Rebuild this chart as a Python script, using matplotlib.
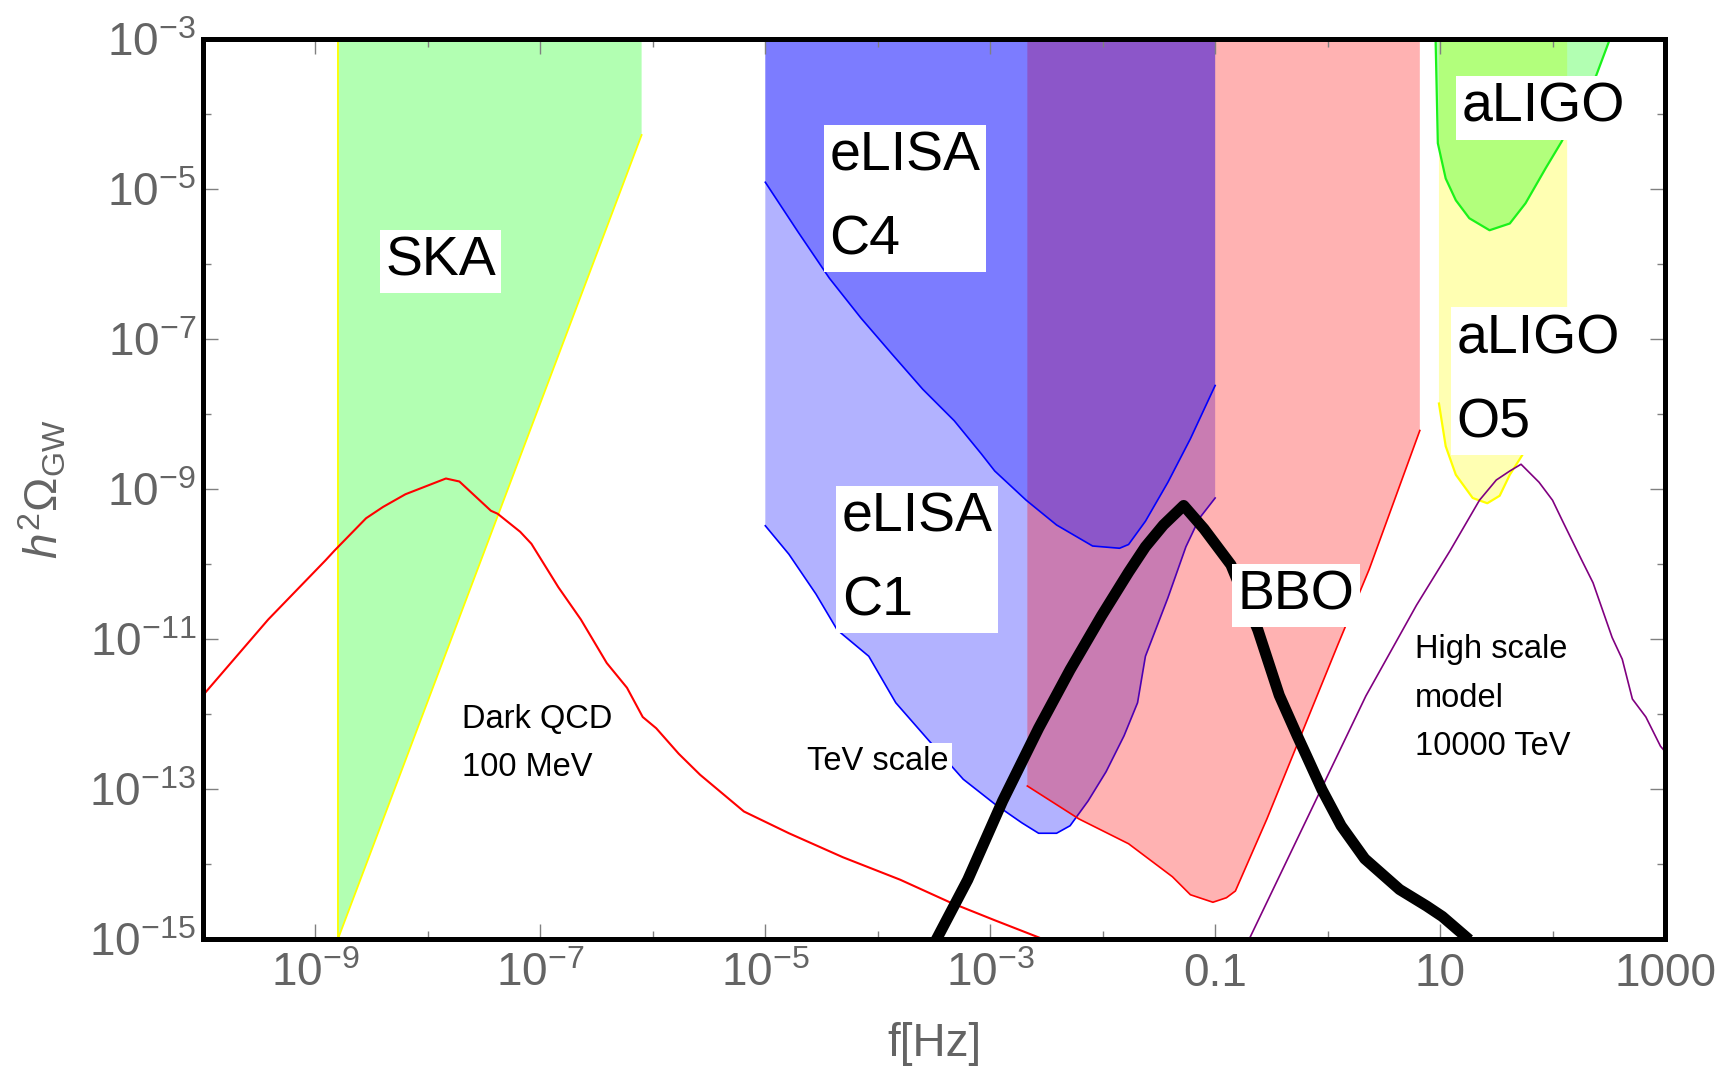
import numpy as np
import matplotlib
matplotlib.use("Agg")
import matplotlib.pyplot as plt

plt.rcParams['font.family'] = ['Liberation Sans', 'DejaVu Sans']
plt.rcParams['mathtext.fontset'] = 'custom'
plt.rcParams['mathtext.rm'] = 'Liberation Sans'
plt.rcParams['mathtext.it'] = 'Liberation Sans:italic'
plt.rcParams['mathtext.bf'] = 'Liberation Sans:bold'

# ---- data: log10(f / Hz) and log10(h^2 Omega_GW) ----
# SKA sensitivity region (polygon, filled)
ska_logf = [-8.8, -8.8, -6.1, -6.1]
ska_logo = [-3.0, -15.0, -4.28, -3.0]

# eLISA C1 sensitivity curve
c1_logf = [-5.0, -4.79, -4.55, -4.36, -4.08, -3.84, -3.56, -3.24, -2.96, -2.72,
           -2.57, -2.41, -2.29, -2.13, -1.97, -1.81, -1.69, -1.62, -1.42, -1.26,
           -1.14, -1.0]
c1_logo = [-9.49, -9.87, -10.40, -10.88, -11.23, -11.85, -12.33, -12.87, -13.20, -13.45,
           -13.59, -13.59, -13.49, -13.16, -12.77, -12.29, -11.85, -11.23, -10.45, -9.77,
           -9.39, -9.12]

# eLISA C4 sensitivity curve
c4_logf = [-5.0, -4.71, -4.43, -4.15, -3.88, -3.60, -3.32, -3.08, -2.96, -2.68,
           -2.41, -2.09, -1.85, -1.77, -1.62, -1.42, -1.22, -1.0]
c4_logo = [-4.91, -5.57, -6.19, -6.72, -7.19, -7.67, -8.09, -8.53, -8.76, -9.15,
           -9.48, -9.76, -9.79, -9.74, -9.43, -8.91, -8.33, -7.62]

# BBO sensitivity curve
bbo_logf = [-2.67, -2.21, -1.77, -1.38, -1.22, -1.02, -0.90, -0.82, -0.54, -0.225,
            0.09, 0.37, 0.82]
bbo_logo = [-12.96, -13.40, -13.73, -14.17, -14.41, -14.51, -14.45, -14.36, -13.40, -12.24,
            -11.08, -10.07, -8.22]

# aLIGO O5 sensitivity curve
o5_logf = [0.99, 1.05, 1.14, 1.29, 1.42, 1.53, 1.62, 1.73, 2.13]
o5_logo = [-7.86, -8.43, -8.81, -9.12, -9.19, -9.09, -8.81, -8.55, -7.5]

# aLIGO sensitivity curve
aligo_logf = [0.96, 0.98, 1.05, 1.14, 1.26, 1.44, 1.62, 1.76, 1.94, 2.08, 2.39, 2.51]
aligo_logo = [-3.0, -4.39, -4.86, -5.15, -5.39, -5.55, -5.46, -5.19, -4.72, -4.37, -3.48, -3.0]

# Dark QCD (100 MeV) spectrum
qcd_logf = [-10.0, -9.42, -8.91, -8.83, -8.55, -8.40, -8.20, -7.84, -7.72, -7.44,
            -7.38, -7.18, -7.08, -6.84, -6.64, -6.41, -6.23, -6.09, -5.97, -5.77,
            -5.58, -5.19, -4.79, -4.31, -3.80, -3.36, -2.96, -2.55]
qcd_logo = [-11.75, -10.74, -9.95, -9.82, -9.39, -9.24, -9.07, -8.86, -8.90, -9.29,
            -9.33, -9.57, -9.73, -10.31, -10.74, -11.32, -11.65, -12.04, -12.19, -12.53,
            -12.81, -13.30, -13.59, -13.91, -14.21, -14.51, -14.75, -14.99]

# TeV scale spectrum
tev_logf = [-3.48, -3.20, -2.89, -2.57, -2.29, -2.01, -1.77, -1.62, -1.46, -1.28,
            -1.10, -0.86, -0.62, -0.43, -0.27, -0.19, -0.05, 0.12, 0.33, 0.64,
            0.88, 1.02, 1.26]
tev_logo = [-15.01, -14.21, -13.16, -12.19, -11.41, -10.69, -10.11, -9.77, -9.48, -9.22,
            -9.53, -10.01, -10.88, -11.75, -12.29, -12.55, -13.01, -13.49, -13.93, -14.34,
            -14.56, -14.70, -15.01]

# High scale model (10000 TeV) spectrum
high_logf = [-0.70, 0.34, 0.79, 1.09, 1.35, 1.50, 1.62, 1.72, 1.88, 2.0,
             2.09, 2.26, 2.36, 2.53, 2.62, 2.71, 2.83, 2.96, 3.0]
high_logo = [-15.01, -11.76, -10.55, -9.82, -9.15, -8.88, -8.76, -8.67, -8.91, -9.15,
             -9.43, -9.95, -10.25, -10.98, -11.27, -11.80, -12.04, -12.43, -12.50]

# axis ticks
xmajor_exp = [-9, -7, -5, -3, -1, 1, 3]
xmajor_labels = [r'$10^{-9}$', r'$10^{-7}$', r'$10^{-5}$', r'$10^{-3}$', '0.1', '10', '1000']
xminor_exp = [-10, -8, -6, -4, -2, 0, 2]
ymajor_exp = [-3, -5, -7, -9, -11, -13, -15]
ymajor_labels = [r'$10^{-3}$', r'$10^{-5}$', r'$10^{-7}$', r'$10^{-9}$',
                 r'$10^{-11}$', r'$10^{-13}$', r'$10^{-15}$']
yminor_exp = [-4, -6, -8, -10, -12, -14]

LOG_TOP = -3.0


def P(a):
    return 10.0 ** np.asarray(a, dtype=float)


fig = plt.figure(figsize=(17.33, 10.68), dpi=100)
ax = fig.add_axes([203 / 1733, 1 - 939 / 1068, 1462 / 1733, 900 / 1068])
ax.set_xscale('log')
ax.set_yscale('log')
ax.set_xlim(1e-10, 1e3)
ax.set_ylim(1e-15, 1e-3)

A = 0.3
BLUE = (0, 0, 1)
RED = (1, 0, 0)
GREEN = (0, 1, 0)
YELLOW = (1, 1, 0)
PURPLE = (0.5, 0, 0.5)


def band(lf, lo, color, z, line_color=None, lw=1.2, line=True):
    """Region between a sensitivity curve and the top of the plot."""
    xs = [lf[0]] + list(lf) + [lf[-1]]
    ys = [LOG_TOP] + list(lo) + [LOG_TOP]
    ax.fill(P(xs), P(ys), color=color, alpha=A, lw=0, zorder=z)
    if line:
        ax.plot(P(lf), P(lo), color=line_color or color, lw=lw, zorder=z + 0.05,
                solid_joinstyle='round')


# SKA
ax.fill(P(ska_logf), P(ska_logo), color=GREEN, alpha=A, lw=0, zorder=1.0)
ax.plot(P(ska_logf[:3]), P(ska_logo[:3]), color=YELLOW, lw=1.3, zorder=1.05)

# eLISA C1, BBO, eLISA C4
band(c1_logf, c1_logo, BLUE, 1.1)
band(bbo_logf, bbo_logo, RED, 1.2)
band(c4_logf, c4_logo, BLUE, 1.3)

# aLIGO O5 and aLIGO
band(o5_logf, o5_logo, YELLOW, 1.4, lw=1.6)
band(aligo_logf, aligo_logo, GREEN, 1.5, line_color=(0.1, 0.95, 0.1), lw=1.6)

# model spectra
ax.plot(P(qcd_logf), P(qcd_logo), color=RED, lw=1.5, zorder=2,
        solid_joinstyle='round')
ax.plot(P(high_logf), P(high_logo), color=PURPLE, lw=1.2, zorder=2,
        solid_joinstyle='round')
ax.plot(P(tev_logf), P(tev_logo), color='black', lw=8, zorder=2.5,
        solid_joinstyle='round', solid_capstyle='butt')

# labels
box = dict(facecolor='white', edgecolor='none', boxstyle='square,pad=0.1')
big = dict(fontsize=40, color='black', ha='left', va='center', linespacing=1.8,
           zorder=3, bbox=box)
small = dict(fontsize=23.5, color='black', ha='left', va='center', linespacing=1.72,
             zorder=3)

ax.text(P(-8.38), P(-5.97), 'SKA', **big)
ax.text(P(-4.43), P(-5.13), 'eLISA\nC4', **big)
ax.text(P(-4.32), P(-9.94), 'eLISA\nC1', **big)
ax.text(P(-0.80), P(-10.42), 'BBO', **big)
ax.text(P(1.19), P(-3.92), 'aLIGO', **big)
ax.text(P(1.144), P(-7.56), 'aLIGO\nO5', **big)

ax.text(P(-7.70), P(-12.39), 'Dark QCD\n100 MeV', **small)
ax.text(P(-4.63), P(-12.64), 'TeV scale',
        bbox=dict(facecolor='white', edgecolor='none', boxstyle='square,pad=0.12'),
        **small)
ax.text(P(0.773), P(-11.79), 'High scale\nmodel\n10000 TeV', **small)

# frame and ticks
for sp in ax.spines.values():
    sp.set_linewidth(3.6)
    sp.set_color('black')
    sp.set_zorder(4)

LABEL_GRAY = '#646464'
TICK_GRAY = '#808080'
ax.set_xticks(P(xmajor_exp))
ax.set_xticklabels(xmajor_labels)
ax.set_xticks(P(xminor_exp), minor=True)
ax.set_xticklabels([], minor=True)
ax.set_yticks(P(ymajor_exp))
ax.set_yticklabels(ymajor_labels)
ax.set_yticks(P(yminor_exp), minor=True)
ax.set_yticklabels([], minor=True)

ax.tick_params(which='both', direction='in', top=True, right=True,
               color=TICK_GRAY, width=1.0)
ax.tick_params(which='major', length=11)
ax.tick_params(which='minor', length=6)
ax.tick_params(axis='x', which='major', labelsize=33, labelcolor=LABEL_GRAY, pad=9)
ax.tick_params(axis='y', which='major', labelsize=33, labelcolor=LABEL_GRAY, pad=5)

ax.set_xlabel('f[Hz]', fontsize=33, color=LABEL_GRAY)
ax.xaxis.set_label_coords(0.5, -0.092)
ax.set_ylabel(r'$h^2\Omega_{\mathrm{GW}}$', fontsize=33, color=LABEL_GRAY)
ax.yaxis.set_label_coords(-0.092, 0.5)

fig.savefig('out.png', dpi=100)
